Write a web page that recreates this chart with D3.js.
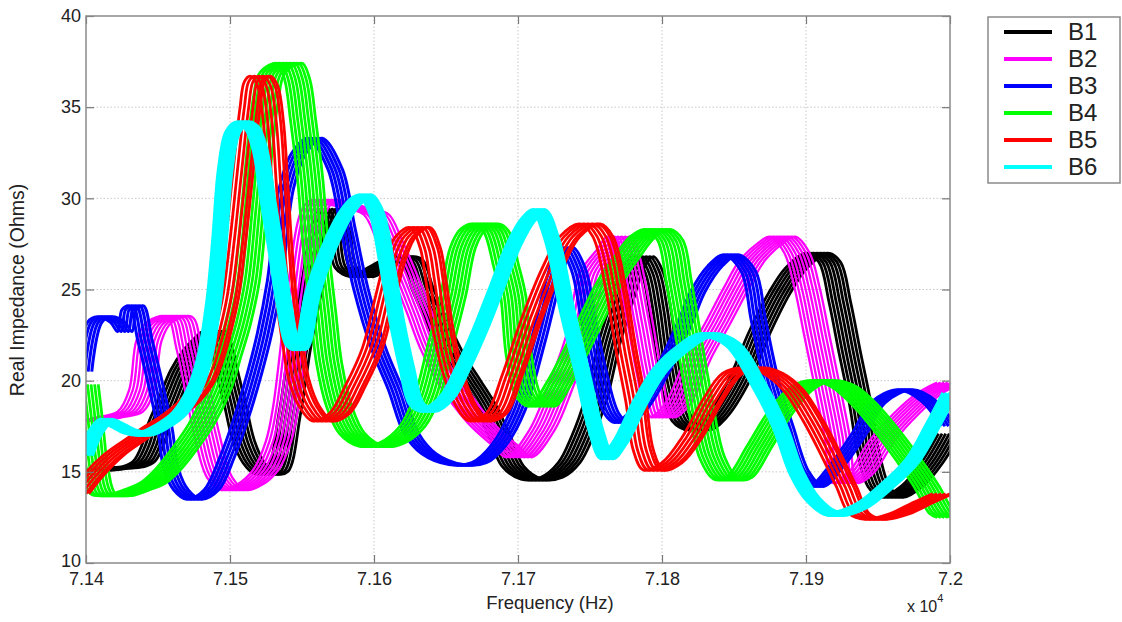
<!DOCTYPE html>
<html>
<head>
<meta charset="utf-8">
<script src="https://cdn.jsdelivr.net/npm/d3@7"></script>
<style>
  body { margin: 0; background: #fff; }
  text { font-family: "Liberation Sans", Arial, Helvetica, sans-serif; fill: #222; }
</style>
</head>
<body>
<script>
// axis ticks
var xTicks = [71400, 71500, 71600, 71700, 71800, 71900, 72000];
var xTickLabels = ["7.14", "7.15", "7.16", "7.17", "7.18", "7.19", "7.2"];
var yTicks = [10, 15, 20, 25, 30, 35, 40];
var seriesNames = ["B1", "B2", "B3", "B4", "B5", "B6"];

// [frequency Hz, real impedance Ohms] (centre of each bundle)
var b1 = [[71400,15.1],[71412,15.1],[71423,15.2],[71434,15.3],[71441,15.6],[71447,16.5],[71451,17.6],[71458,18.9],[71467,20.6],[71476,21.7],[71483,22.3],[71490,22.7],[71494,22.0],[71499,20.3],[71504,18.7],[71510,16.7],[71517,15.5],[71525,14.9],[71533,15.0],[71542,18.2],[71549,21.8],[71558,25.5],[71565,28.6],[71569,29.4],[71576,28.2],[71581,26.2],[71592,25.7],[71604,26.2],[71620,26.8],[71627,26.6],[71634,25.1],[71644,23.3],[71655,21.5],[71667,20.0],[71678,18.6],[71688,16.9],[71697,15.3],[71710,14.6],[71724,14.7],[71736,15.5],[71745,16.9],[71755,19.1],[71764,22.1],[71773,24.4],[71780,26.1],[71787,26.8],[71794,25.9],[71799,24.0],[71803,21.7],[71808,19.5],[71815,17.8],[71826,17.3],[71838,18.0],[71854,20.0],[71868,22.6],[71882,24.8],[71894,26.2],[71908,27.0],[71917,26.5],[71924,24.3],[71931,21.5],[71938,18.8],[71944,16.0],[71951,14.2],[71960,13.6],[71974,14.2],[71988,15.5],[72000,17.1]];
var b2 = [[71406,17.8],[71417,18.0],[71431,18.3],[71439,19.5],[71444,22.2],[71451,23.2],[71465,23.5],[71472,21.7],[71484,17.1],[71493,14.7],[71503,14.0],[71514,14.3],[71525,15.1],[71534,16.7],[71539,18.6],[71549,25.0],[71558,29.2],[71565,29.9],[71576,29.7],[71592,29.4],[71602,29.1],[71611,27.7],[71623,25.5],[71632,23.7],[71641,21.8],[71655,19.7],[71674,17.7],[71692,16.4],[71701,15.8],[71717,17.3],[71729,19.5],[71743,22.6],[71752,25.9],[71764,27.2],[71771,27.9],[71776,26.8],[71785,23.2],[71792,20.2],[71799,18.0],[71810,18.6],[71826,21.3],[71840,23.3],[71852,25.1],[71863,26.6],[71875,27.5],[71884,27.9],[71894,27.0],[71901,25.1],[71908,22.4],[71915,19.7],[71922,16.9],[71927,14.4],[71938,14.9],[71953,16.7],[71970,18.2],[71986,19.3],[72000,19.9]];
var b3 = [[71400,20.5],[71407,23.2],[71414,23.5],[71423,23.2],[71428,22.7],[71431,23.9],[71436,24.1],[71442,22.2],[71449,19.9],[71456,17.3],[71460,15.2],[71467,14.0],[71476,13.5],[71488,14.0],[71499,15.8],[71509,18.0],[71518,20.4],[71525,22.6],[71532,25.5],[71540,30.5],[71549,32.5],[71560,33.3],[71574,31.6],[71583,28.3],[71592,25.0],[71604,21.8],[71616,19.5],[71627,17.1],[71639,16.0],[71658,15.4],[71674,15.5],[71688,16.5],[71701,18.4],[71715,22.2],[71727,25.9],[71734,27.3],[71743,26.1],[71750,23.3],[71757,20.6],[71766,18.2],[71773,17.7],[71785,18.4],[71799,20.2],[71817,23.2],[71826,24.9],[71838,26.3],[71849,26.9],[71861,26.0],[71868,23.3],[71877,20.0],[71887,17.5],[71898,15.0],[71908,14.2],[71922,15.3],[71938,17.1],[71951,18.8],[71970,19.5],[71986,18.9],[72000,17.5]];
var b4 = [[71400,19.8],[71403,17.8],[71407,15.1],[71412,13.8],[71423,13.7],[71435,14.0],[71447,14.4],[71458,15.2],[71469,16.3],[71481,17.7],[71492,19.5],[71499,21.3],[71506,23.2],[71512,25.5],[71517,29.4],[71521,32.7],[71525,35.4],[71529,36.8],[71536,37.3],[71542,37.4],[71547,36.5],[71551,34.3],[71556,31.0],[71560,27.2],[71565,23.7],[71569,21.0],[71576,18.6],[71585,17.1],[71599,16.4],[71613,16.6],[71627,17.5],[71637,19.1],[71646,21.8],[71655,24.6],[71662,27.3],[71669,28.3],[71678,28.6],[71685,28.2],[71692,26.3],[71697,24.6],[71701,21.3],[71708,19.1],[71717,18.6],[71729,19.9],[71741,21.7],[71752,23.5],[71764,25.4],[71776,26.8],[71787,27.9],[71797,28.3],[71806,27.7],[71812,25.4],[71819,22.2],[71826,19.1],[71835,15.8],[71845,14.6],[71854,14.7],[71868,16.4],[71882,18.2],[71896,19.5],[71910,20.0],[71926,19.7],[71942,18.6],[71958,17.1],[71972,15.6],[71984,14.2],[71995,12.7],[72000,12.5]];
var b5 = [[71400,13.8],[71410,14.8],[71424,15.9],[71438,16.7],[71451,17.4],[71465,18.1],[71476,18.8],[71486,19.8],[71493,21.1],[71499,22.8],[71504,24.6],[71509,27.7],[71514,31.4],[71519,35.0],[71522,36.4],[71526,36.7],[71531,36.2],[71535,34.3],[71538,31.0],[71541,27.3],[71544,24.6],[71549,21.8],[71553,20.0],[71560,18.6],[71569,17.8],[71581,18.2],[71592,19.7],[71604,21.8],[71613,24.6],[71620,26.7],[71627,27.9],[71637,28.4],[71644,27.3],[71648,25.5],[71653,22.8],[71660,20.4],[71669,18.6],[71678,17.8],[71690,18.2],[71701,20.3],[71715,23.5],[71729,26.2],[71741,27.9],[71755,28.6],[71764,27.9],[71773,25.0],[71780,21.7],[71787,18.8],[71792,16.2],[71799,15.1],[71812,15.5],[71826,16.9],[71840,18.9],[71854,20.4],[71868,20.7],[71882,20.4],[71896,19.5],[71910,17.8],[71922,16.0],[71933,14.2],[71942,12.7],[71953,12.4],[71970,12.7],[71986,13.3],[72000,13.8]];
var b6 = [[71400,15.9],[71407,17.2],[71414,17.8],[71421,17.6],[71431,17.2],[71442,17.1],[71453,17.5],[71465,18.2],[71476,19.6],[71483,21.4],[71489,24.4],[71493,27.7],[71497,31.6],[71502,33.6],[71508,34.1],[71515,33.9],[71521,32.7],[71526,30.2],[71532,27.2],[71538,24.1],[71544,22.0],[71549,21.8],[71558,24.9],[71569,27.3],[71581,29.2],[71590,30.0],[71595,30.1],[71602,29.2],[71609,26.5],[71616,23.3],[71623,20.7],[71630,18.7],[71639,18.4],[71651,19.1],[71662,20.7],[71674,22.8],[71685,25.0],[71697,27.4],[71707,28.8],[71715,29.3],[71724,27.7],[71734,24.0],[71745,20.4],[71755,17.1],[71762,15.8],[71771,16.6],[71785,18.8],[71799,20.6],[71815,21.8],[71831,22.5],[71849,22.0],[71868,19.7],[71882,17.5],[71894,14.9],[71905,13.5],[71919,12.7],[71938,13.1],[71956,14.2],[71974,15.6],[71988,17.5],[72000,19.3]];

// frequency offsets (Hz) of the repeated sweeps that make each bundle
var shiftsB1 = [-8, -5.5, -3, -0.5, 2, 4.5, 7];
var shiftsB2 = [-9, -6.5, -4, -1.5, 1, 3.5, 6, 8.5];
var shiftsB3 = [-6, -3.5, -1, 1.5, 4];
var shiftsB4 = [-9, -6.5, -4, -1.5, 1, 3.5, 6, 8.5];
var shiftsB5 = [-12, -9, -6, -3, 0, 2];
var shiftsB6 = [-4, -1.5, 1, 3.5];

var series = [
  {name: "B1", values: b1, shifts: shiftsB1, color: "#000000", width: 2.8},
  {name: "B2", values: b2, shifts: shiftsB2, color: "#ff00ff", width: 2.3},
  {name: "B3", values: b3, shifts: shiftsB3, color: "#0000ff", width: 3},
  {name: "B4", values: b4, shifts: shiftsB4, color: "#00ff00", width: 2.8},
  {name: "B5", values: b5, shifts: shiftsB5, color: "#ff0000", width: 2.8},
  {name: "B6", values: b6, shifts: shiftsB6, color: "#00ffff", width: 6}
];

var W = 1122, H = 622;
var plot = {left: 86, top: 16, right: 950, bottom: 563};

var svg = d3.select("body").append("svg")
    .attr("width", W)
    .attr("height", H);

var x = d3.scaleLinear().domain([71400, 72000]).range([plot.left, plot.right]);
var y = d3.scaleLinear().domain([10, 40]).range([plot.bottom, plot.top]);

svg.append("clipPath").attr("id", "clip")
  .append("rect")
    .attr("x", plot.left).attr("y", plot.top)
    .attr("width", plot.right - plot.left)
    .attr("height", plot.bottom - plot.top);

// dotted grid
var grid = svg.append("g").attr("stroke", "#c8c8c8").attr("stroke-width", 1)
    .attr("stroke-dasharray", "1.5,2");
grid.selectAll("line.gx").data(xTicks.slice(1, -1)).enter().append("line")
    .attr("x1", function(d) { return x(d); }).attr("x2", function(d) { return x(d); })
    .attr("y1", plot.top).attr("y2", plot.bottom);
grid.selectAll("line.gy").data(yTicks.slice(1, -1)).enter().append("line")
    .attr("y1", function(d) { return y(d); }).attr("y2", function(d) { return y(d); })
    .attr("x1", plot.left).attr("x2", plot.right);

// bundles of curves
var curves = svg.append("g").attr("clip-path", "url(#clip)");
series.forEach(function(s) {
  var g = curves.append("g")
      .attr("fill", "none")
      .attr("stroke", s.color)
      .attr("stroke-width", s.width)
      .attr("stroke-linejoin", "round");
  s.shifts.forEach(function(dHz) {
    var line = d3.line()
        .x(function(d) { return x(d[0] + dHz); })
        .y(function(d) { return y(d[1]); })
        .curve(d3.curveCatmullRom.alpha(0.5));
    g.append("path").attr("d", line(s.values));
  });
});

// axes, MATLAB style: ticks pointing in on all four sides
var fmtX = function(d, i) { return xTickLabels[i]; };
var xAxis = svg.append("g")
    .attr("transform", "translate(0," + plot.bottom + ")")
    .call(d3.axisBottom(x).tickValues(xTicks).tickFormat(fmtX)
      .tickSizeInner(-8).tickSizeOuter(0).tickPadding(9));
var xAxisTop = svg.append("g")
    .attr("transform", "translate(0," + plot.top + ")")
    .call(d3.axisTop(x).tickValues(xTicks).tickFormat("")
      .tickSizeInner(-8).tickSizeOuter(0));
var yAxis = svg.append("g")
    .attr("transform", "translate(" + plot.left + ",0)")
    .call(d3.axisLeft(y).tickValues(yTicks).tickFormat(d3.format("d"))
      .tickSizeInner(-8).tickSizeOuter(0).tickPadding(5));
var yAxisRight = svg.append("g")
    .attr("transform", "translate(" + plot.right + ",0)")
    .call(d3.axisRight(y).tickValues(yTicks).tickFormat("")
      .tickSizeInner(-8).tickSizeOuter(0));

[xAxis, xAxisTop, yAxis, yAxisRight].forEach(function(a) {
  a.select(".domain").remove();
  a.selectAll(".tick line").attr("stroke", "#777").attr("stroke-width", 1.2);
  a.selectAll(".tick text").attr("font-size", 18).attr("fill", "#222")
    .style("font-family", "'Liberation Sans', Arial, sans-serif");
});
// the bottom "10" sits a little higher so it clears "7.14"
yAxis.selectAll(".tick text").filter(function(d) { return d === 10; }).attr("dy", "0.2em");

// axes box
svg.append("rect")
    .attr("x", plot.left).attr("y", plot.top)
    .attr("width", plot.right - plot.left)
    .attr("height", plot.bottom - plot.top)
    .attr("fill", "none").attr("stroke", "#8a8a8a").attr("stroke-width", 1.5);

// axis labels
svg.append("text")
    .attr("x", 550).attr("y", 609)
    .attr("text-anchor", "middle").attr("font-size", 18.5)
    .text("Frequency (Hz)");
svg.append("text")
    .attr("transform", "translate(24,290) rotate(-90)")
    .attr("text-anchor", "middle").attr("font-size", 19.5)
    .text("Real Impedance (Ohms)");

var expo = svg.append("text").attr("x", 907).attr("y", 612).attr("font-size", 16);
expo.append("tspan").text("x 10");
expo.append("tspan").attr("dy", -10).attr("font-size", 11).text("4");

// legend
var legend = svg.append("g");
legend.append("rect")
    .attr("x", 988).attr("y", 17).attr("width", 132).attr("height", 166)
    .attr("fill", "#fff").attr("stroke", "#8a8a8a").attr("stroke-width", 1.5);
var item = legend.selectAll("g.item").data(series).enter().append("g")
    .attr("class", "item")
    .attr("transform", function(d, i) { return "translate(0," + (32 + i * 27) + ")"; });
item.append("line")
    .attr("x1", 1004).attr("x2", 1052)
    .attr("stroke", function(d) { return d.color; })
    .attr("stroke-width", 4);
item.append("text")
    .attr("x", 1068).attr("dy", "0.35em").attr("font-size", 24)
    .text(function(d) { return d.name; });
</script>
</body>
</html>
